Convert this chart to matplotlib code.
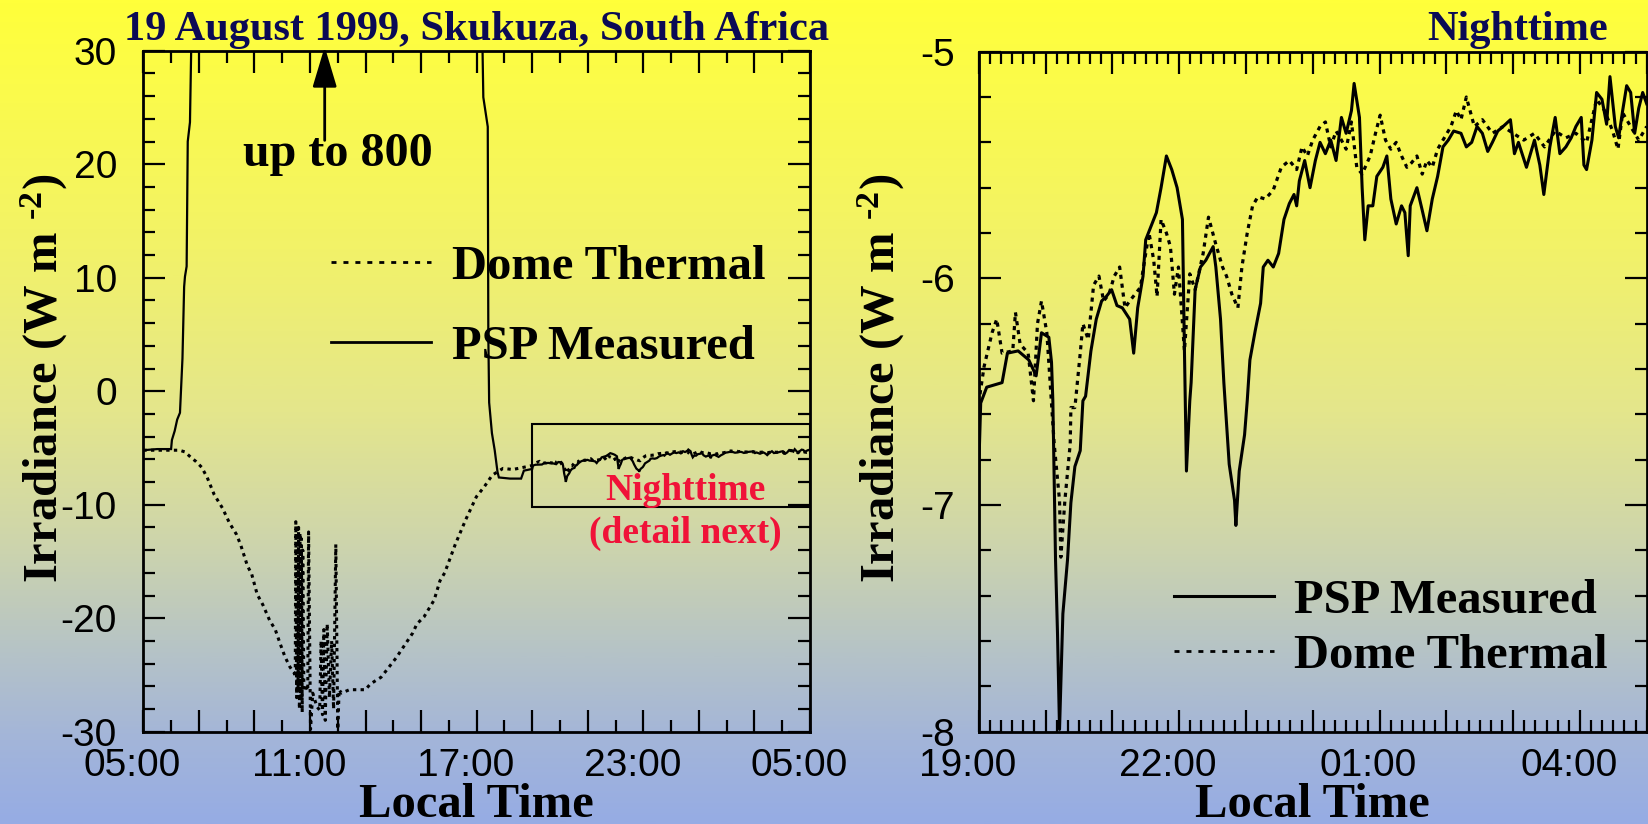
import numpy as np
import matplotlib
matplotlib.use("Agg")
import matplotlib.pyplot as plt
from matplotlib.ticker import FixedLocator, MultipleLocator, FuncFormatter
from matplotlib.lines import Line2D
from matplotlib.patches import Rectangle
from matplotlib.transforms import ScaledTranslation
from matplotlib.colors import LinearSegmentedColormap
from matplotlib.font_manager import FontProperties

# ---------------------------------------------------------------------------
# Data: irradiance (W m-2) against local time in hours (values past 24 are
# the early hours of the next day)
# ---------------------------------------------------------------------------

# PSP measured, daytime part (goes off-scale, up to 800, around midday)
psp_day_time = [5.00, 5.50, 6.00, 6.03, 6.13, 6.22, 6.32, 6.41, 6.47, 6.50,
                6.56, 6.60, 6.68, 12.00, 17.24, 17.40, 17.42, 17.45, 17.55,
                17.65, 17.75, 17.80, 18.20, 18.60, 18.70, 18.90]
psp_day_vals = [-5.2, -5.1, -5.1, -4.3, -3.5, -2.5, -1.9, 2.9, 9.2, 10.1,
                11.0, 22.0, 23.7, 800.0, 25.9, 23.3, 5.0, -1.0, -3.7,
                -5.2, -7.1, -7.6, -7.7, -7.7, -7.0, -6.9]

# Dome thermal, daytime part
dome_day_time = [5.00, 5.50, 6.00, 6.30, 6.50, 6.70, 6.90, 7.10, 7.30, 7.55,
                 7.85, 8.10, 8.35, 8.50, 8.75, 8.90, 9.10, 9.30, 9.55, 9.75,
                 9.92, 10.10, 10.28, 10.45,
                 10.47, 10.49, 10.52, 10.54, 10.57, 10.59, 10.62, 10.64,
                 10.67, 10.69, 10.72, 10.74, 10.78, 10.85, 10.92, 10.95,
                 11.02, 11.10, 11.25, 11.35, 11.40, 11.45, 11.50, 11.55,
                 11.62, 11.70, 11.78, 11.85, 11.93, 12.00, 12.05, 12.13,
                 12.42, 13.00, 13.17, 13.56, 14.10, 14.70, 14.85, 15.10,
                 15.47, 15.68, 15.85, 16.23, 16.61, 16.99, 17.28, 17.56,
                 17.95, 18.30, 18.60, 18.90]
dome_day_vals = [-5.2, -5.2, -5.2, -5.2, -5.35, -5.8, -6.2, -6.7, -7.6, -9.1,
                 -10.3, -11.6, -12.6, -13.5, -15.4, -16.1, -17.9, -18.8,
                 -20.2, -21.0, -22.2, -23.4, -24.3, -24.9,
                 -25.2, -11.5, -27.0, -11.8, -26.5, -12.0, -28.0, -12.5,
                 -27.0, -13.0, -28.3, -14.0, -26.3, -26.0, -26.4, -12.4,
                 -29.8, -26.6, -27.8, -28.1, -22.0, -28.5, -21.0, -29.0,
                 -20.5, -27.0, -22.0, -28.0, -13.5, -29.8, -26.3, -26.6,
                 -26.3, -26.3, -25.8, -25.2, -23.5, -21.3, -20.5, -19.9,
                 -18.4, -16.7, -16.0, -13.5, -11.3, -9.3, -8.4, -7.4,
                 -6.8, -6.9, -6.75, -6.6]

# Nighttime detail, 19:00 to 05:00
psp_night_time = [19.00, 19.03, 19.12, 19.35, 19.43, 19.59, 19.75, 19.86,
                  19.94, 20.05, 20.09, 20.11, 20.15, 20.18, 20.21, 20.26,
                  20.33, 20.38, 20.44, 20.52, 20.56, 20.60, 20.68, 20.76,
                  20.84, 20.91, 20.99, 21.07, 21.15, 21.26, 21.32, 21.38,
                  21.46, 21.50, 21.58, 21.66, 21.73, 21.81, 21.89, 21.97,
                  22.05, 22.08, 22.11, 22.16, 22.18, 22.24, 22.32, 22.40,
                  22.51, 22.55, 22.62, 22.67, 22.75, 22.83, 22.85, 22.90,
                  22.98, 23.02, 23.06, 23.14, 23.22, 23.26, 23.33, 23.41,
                  23.49, 23.57, 23.65, 23.72, 23.76, 23.80, 23.88, 23.96,
                  24.04, 24.11, 24.19, 24.27, 24.35, 24.43, 24.50, 24.58,
                  24.62, 24.70, 24.74, 24.78, 24.83, 24.90, 24.96, 25.05,
                  25.11, 25.17, 25.25, 25.33, 25.38, 25.43, 25.46, 25.56,
                  25.64, 25.71, 25.79, 25.87, 25.95, 26.03, 26.11, 26.22,
                  26.30, 26.38, 26.46, 26.54, 26.62, 26.69, 26.77, 26.85,
                  26.96, 27.02, 27.08, 27.20, 27.32, 27.40, 27.46, 27.55,
                  27.63, 27.70, 27.79, 27.87, 27.94, 28.02, 28.06, 28.10,
                  28.18, 28.25, 28.33, 28.40, 28.45, 28.53, 28.58, 28.64,
                  28.70, 28.76, 28.82, 28.88, 28.94, 29.00]
psp_night_vals = [-6.85, -6.55, -6.48, -6.46, -6.33, -6.32, -6.36, -6.43,
                  -6.24, -6.26, -6.37, -6.54, -7.24, -7.57, -7.99, -7.48,
                  -7.24, -6.99, -6.83, -6.76, -6.54, -6.52, -6.32, -6.18,
                  -6.10, -6.08, -6.05, -6.12, -6.13, -6.18, -6.33, -6.13,
                  -5.99, -5.83, -5.77, -5.71, -5.60, -5.46, -5.52, -5.60,
                  -5.74, -6.32, -6.85, -6.54, -6.46, -6.05, -5.95, -5.92,
                  -5.86, -5.95, -6.18, -6.46, -6.82, -6.98, -7.09, -6.85,
                  -6.69, -6.54, -6.36, -6.23, -6.11, -5.95, -5.92, -5.95,
                  -5.89, -5.74, -5.67, -5.63, -5.68, -5.57, -5.48, -5.60,
                  -5.48, -5.40, -5.45, -5.39, -5.48, -5.29, -5.36, -5.26,
                  -5.14, -5.29, -5.60, -5.83, -5.68, -5.68, -5.55, -5.51,
                  -5.46, -5.65, -5.76, -5.68, -5.71, -5.90, -5.68, -5.60,
                  -5.70, -5.79, -5.65, -5.55, -5.42, -5.39, -5.35, -5.36,
                  -5.42, -5.40, -5.33, -5.36, -5.44, -5.40, -5.35, -5.33,
                  -5.30, -5.45, -5.40, -5.51, -5.39, -5.50, -5.63, -5.42,
                  -5.29, -5.45, -5.42, -5.38, -5.33, -5.29, -5.50, -5.52,
                  -5.39, -5.18, -5.21, -5.32, -5.11, -5.33, -5.38, -5.26,
                  -5.15, -5.18, -5.36, -5.25, -5.18, -5.23]

dome_night_time = [19.00, 19.08, 19.20, 19.27, 19.35, 19.51, 19.55, 19.62,
                   19.74, 19.82, 19.88, 19.94, 20.02, 20.13, 20.21, 20.23,
                   20.29, 20.37, 20.38, 20.44, 20.52, 20.56, 20.64, 20.72,
                   20.80, 20.87, 20.95, 21.03, 21.11, 21.19, 21.26, 21.34,
                   21.42, 21.50, 21.55, 21.62, 21.67, 21.73, 21.81, 21.87,
                   21.93, 21.99, 22.08, 22.16, 22.24, 22.36, 22.44, 22.55,
                   22.65, 22.71, 22.79, 22.88, 22.94, 23.02, 23.10, 23.18,
                   23.29, 23.41, 23.53, 23.65, 23.76, 23.84, 23.92, 24.00,
                   24.11, 24.19, 24.27, 24.35, 24.43, 24.50, 24.58, 24.66,
                   24.74, 24.86, 24.94, 25.01, 25.09, 25.17, 25.25, 25.33,
                   25.41, 25.48, 25.56, 25.64, 25.71, 25.79, 25.87, 25.95,
                   26.07, 26.15, 26.22, 26.30, 26.42, 26.54, 26.69, 26.85,
                   27.00, 27.16, 27.32, 27.47, 27.63, 27.79, 27.94, 28.10,
                   28.25, 28.37, 28.49, 28.57, 28.64, 28.76, 28.88, 29.00]
dome_night_vals = [-6.55, -6.39, -6.24, -6.18, -6.33, -6.32, -6.15, -6.29,
                   -6.33, -6.54, -6.20, -6.10, -6.24, -6.73, -6.98, -7.23,
                   -6.98, -6.73, -6.57, -6.57, -6.33, -6.20, -6.27, -6.03,
                   -5.99, -6.10, -6.07, -5.99, -5.95, -6.13, -6.10, -6.07,
                   -6.04, -5.89, -5.80, -5.92, -6.08, -5.74, -5.80, -5.86,
                   -6.07, -5.95, -6.32, -5.98, -6.05, -5.89, -5.73, -5.85,
                   -5.95, -5.99, -6.07, -6.13, -5.95, -5.80, -5.68, -5.64,
                   -5.65, -5.61, -5.51, -5.48, -5.52, -5.42, -5.46, -5.39,
                   -5.33, -5.31, -5.42, -5.35, -5.39, -5.43, -5.31, -5.51,
                   -5.54, -5.46, -5.36, -5.28, -5.39, -5.43, -5.40, -5.46,
                   -5.51, -5.49, -5.46, -5.54, -5.48, -5.51, -5.43, -5.39,
                   -5.33, -5.26, -5.30, -5.20, -5.33, -5.30, -5.36, -5.33,
                   -5.36, -5.39, -5.36, -5.42, -5.35, -5.38, -5.36, -5.40,
                   -5.21, -5.26, -5.35, -5.43, -5.27, -5.33, -5.39, -5.33]

# Whole-day series for the left panel
psp_time = psp_day_time + psp_night_time
psp_vals = psp_day_vals + psp_night_vals
dome_time = dome_day_time + dome_night_time
dome_vals = dome_day_vals + dome_night_vals

# Annotations
arrow_time, arrow_from, arrow_to = 11.53, 22.1, 30.35
note_time, note_val = 12.0, 19.8
night_box = (19.0, -10.2, 10.0, 7.3)  # x, y, width, height

# ---------------------------------------------------------------------------
# Style
# ---------------------------------------------------------------------------
plt.rcParams["axes.unicode_minus"] = False
plt.rcParams["mathtext.fontset"] = "custom"
plt.rcParams["mathtext.rm"] = "Liberation Serif:bold"
plt.rcParams["mathtext.it"] = "Liberation Serif:bold"
plt.rcParams["mathtext.bf"] = "Liberation Serif:bold"

SERIF = "Liberation Serif"
SANS = "Liberation Sans"
NAVY = "#0b0a55"
RED = "#f01238"
DOT_LEFT = (0, (1.1, 1.4))
DOT_RIGHT = (0, (1.3, 1.5))
DOT_LEGEND = (0, (1.8, 2.5))

W, H = 1648, 824
fig = plt.figure(figsize=(W / 100, H / 100), dpi=100)

# Background: yellow at the top fading to pale blue at the bottom
stops = [(0.00, (255, 255, 58)), (0.10, (251, 251, 74)), (0.30, (242, 242, 104)),
         (0.50, (228, 230, 140)), (0.65, (207, 214, 170)), (0.80, (180, 194, 200)),
         (0.90, (163, 181, 217)), (1.00, (150, 172, 228))]
cmap = LinearSegmentedColormap.from_list(
    "bg", [(p, tuple(c / 255 for c in rgb)) for p, rgb in stops])
bg = fig.add_axes([0, 0, 1, 1], zorder=0)
bg.imshow(np.linspace(0, 1, 400)[:, None], aspect="auto", cmap=cmap,
          extent=[0, 1, 0, 1])
bg.set_axis_off()


def px_box(left, top, right, bottom):
    return [left / W, 1 - bottom / H, (right - left) / W, (bottom - top) / H]


ax1 = fig.add_axes(px_box(143.3, 50.7, 810.0, 731.7), zorder=1)
ax2 = fig.add_axes(px_box(978.7, 51.7, 1646.7, 731.7), zorder=1)

for ax in (ax1, ax2):
    ax.set_facecolor("none")
    for s in ax.spines.values():
        s.set_linewidth(2.0)
    ax.tick_params(which="both", direction="in", top=True, right=True,
                   width=1.6, labelsize=28)
    ax.tick_params(which="major", length=16)
    ax.tick_params(which="minor", length=8.5)
    ax.tick_params(axis="x", which="major", pad=12)

ax1.tick_params(axis="y", which="major", pad=19)
ax2.tick_params(axis="y", which="major", pad=17)


def clock(step, start):
    def fmt(x, pos):
        h = int(round(x))
        if (h - start) % step:
            return ""
        return f"{h % 24:02d}:00"
    return FuncFormatter(fmt)


# ---------------- Left panel: whole day ----------------
ax1.plot(psp_time, psp_vals, color="black", lw=1.6, solid_joinstyle="miter")
ax1.plot(dome_time, dome_vals, color="black", lw=2.2, linestyle=DOT_LEFT)
ax1.set_xlim(5, 29)
ax1.set_ylim(-30, 30)
ax1.xaxis.set_major_locator(FixedLocator(np.arange(5, 30, 2)))
ax1.xaxis.set_minor_locator(MultipleLocator(1))
ax1.xaxis.set_major_formatter(clock(6, 5))
ax1.yaxis.set_major_locator(MultipleLocator(10))
ax1.yaxis.set_minor_locator(MultipleLocator(2))

ax1.add_patch(Rectangle(night_box[:2], night_box[2], night_box[3], fill=False,
                        lw=1.5, ec="black", zorder=3))
ax1.text(24.52, -9.59, "Nighttime", color=RED, family=SERIF, weight="bold",
         fontsize=27, ha="center", va="baseline")
ax1.text(24.52, -13.37, "(detail next)", color=RED, family=SERIF,
         weight="bold", fontsize=27, ha="center", va="baseline")

ax1.annotate("", xy=(arrow_time, arrow_to), xytext=(arrow_time, arrow_from),
             annotation_clip=False,
             arrowprops=dict(arrowstyle="-|>,head_length=2.5,head_width=0.75",
                             mutation_scale=10, lw=2, color="black",
                             shrinkA=0, shrinkB=0))
ax1.text(note_time, note_val, "up to 800", family=SERIF, weight="bold",
         fontsize=34.6, ha="center", va="baseline")

legend_font = FontProperties(family=SERIF, weight="bold", size=35)
ax1.legend(handles=[Line2D([], [], color="black", lw=2.0, linestyle=DOT_LEGEND),
                    Line2D([], [], color="black", lw=2.0)],
           labels=["Dome Thermal", "PSP Measured"],
           loc="center left", bbox_to_anchor=(0.2815, 0.624), frameon=False,
           prop=legend_font, handlelength=2.06, handletextpad=0.42,
           labelspacing=0.74, borderpad=0, borderaxespad=0)

# ---------------- Right panel: nighttime detail ----------------
ax2.plot(psp_night_time, psp_night_vals, color="black", lw=2.2)
ax2.plot(dome_night_time, dome_night_vals, color="black", lw=2.3,
         linestyle=DOT_RIGHT)
ax2.set_xlim(19, 29)
ax2.set_ylim(-8, -5)
ax2.xaxis.set_major_locator(MultipleLocator(1))
ax2.xaxis.set_minor_locator(MultipleLocator(1 / 6))
ax2.xaxis.set_major_formatter(clock(3, 19))
ax2.yaxis.set_major_locator(MultipleLocator(1))
ax2.yaxis.set_minor_locator(MultipleLocator(0.2))

ax2.legend(handles=[Line2D([], [], color="black", lw=2.2),
                    Line2D([], [], color="black", lw=2.0, linestyle=DOT_LEGEND)],
           labels=["PSP Measured", "Dome Thermal"],
           loc="center left", bbox_to_anchor=(0.292, 0.1518), frameon=False,
           prop=legend_font, handlelength=2.06, handletextpad=0.42,
           labelspacing=0.24, borderpad=0, borderaxespad=0)

for ax in (ax1, ax2):
    for lbl in ax.get_xticklabels() + ax.get_yticklabels():
        lbl.set_family(SANS)
    shift = ScaledTranslation(-11 / 100, 0, fig.dpi_scale_trans)
    for lbl in ax.get_xticklabels():
        lbl.set_transform(lbl.get_transform() + shift)

# ---------------- Figure-level labels ----------------
label_kw = dict(family=SERIF, weight="bold", fontsize=35)
fig.text(124 / W, 1 - 40 / H, "19 August 1999, Skukuza, South Africa",
         color=NAVY, family=SERIF, weight="bold", fontsize=30.5,
         ha="left", va="baseline")
fig.text(1608 / W, 1 - 40 / H, "Nighttime", color=NAVY, family=SERIF,
         weight="bold", fontsize=30.5, ha="right", va="baseline")

ylab = r"Irradiance (W m $^{\text{-2}}$)"
fig.text(44 / W, 1 - 378.5 / H, ylab, rotation=90, ha="center", va="center",
         **label_kw)
fig.text(881 / W, 1 - 378.5 / H, ylab, rotation=90, ha="center", va="center",
         **label_kw)
fig.text(476.5 / W, 1 - 817 / H, "Local Time", ha="center", va="baseline",
         **label_kw)
fig.text(1312.7 / W, 1 - 817 / H, "Local Time", ha="center", va="baseline",
         **label_kw)

fig.savefig("out.png", dpi=100)
